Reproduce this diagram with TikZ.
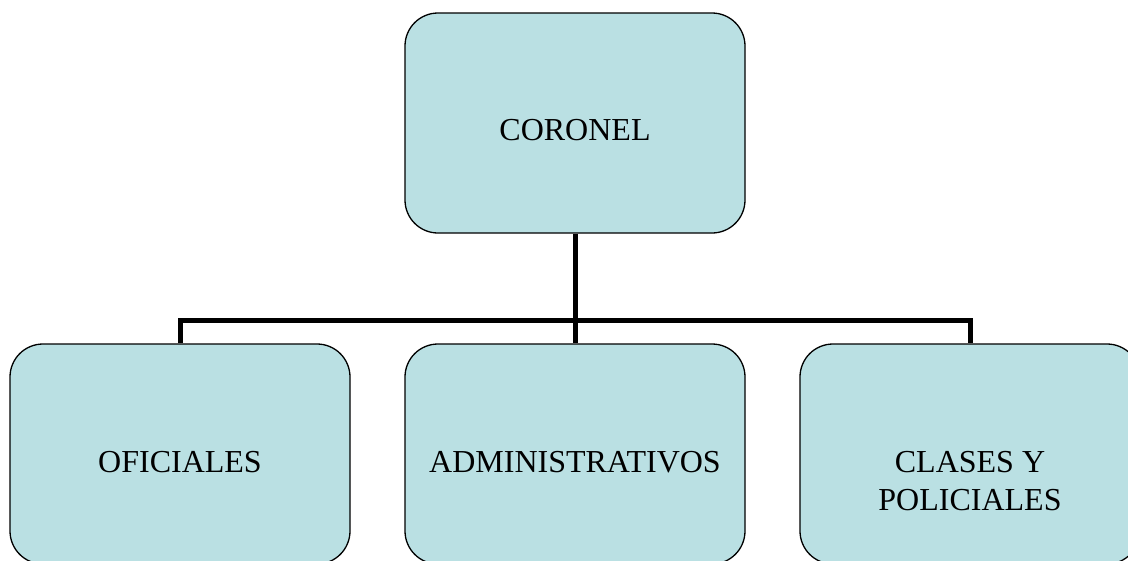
\documentclass[tikz,border=0pt]{standalone}
\usepackage{fontspec}
\setmainfont{Liberation Serif}
\definecolor{boxfill}{RGB}{186,224,227}
\newcommand{\lowerby}[2]{\raisebox{-#1}[\height][\depth]{#2}}
\begin{document}
\begin{tikzpicture}[x=1pt,y=-1pt,
  orgbox/.style={draw=black, line width=1.3pt, fill=boxfill, rounded corners=33pt,
    minimum width=340pt, minimum height=220pt, inner sep=0pt, align=center,
    font=\fontsize{32}{38}\selectfont},
  link/.style={draw=black, line width=5pt}]
\useasboundingbox (0,0) rectangle (1128,560);
\clip (0,0) rectangle (1128,560);
\node[orgbox] (top) at (575,123) {\lowerby{7pt}{CORONEL}};
\node[orgbox] (of) at (180,454) {\lowerby{8pt}{OFICIALES}};
\node[orgbox] (ad) at (575,454) {\lowerby{8pt}{ADMINISTRATIVOS}};
\node[orgbox] (cl) at (970,454) {\lowerby{30pt}{\begin{tabular}{@{}c@{}}CLASES Y\\POLICIALES\end{tabular}}};
\coordinate (bar) at (575,320);
\draw[link] (top.south) -- (bar);
\draw[link] (bar) -- (ad.north);
\draw[link] (of.north) |- (bar) -| (cl.north);
\end{tikzpicture}
\end{document}
